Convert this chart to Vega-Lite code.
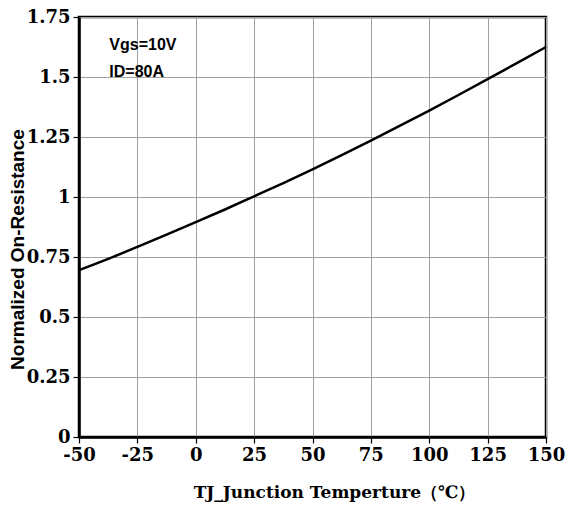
{
  "$schema": "https://vega.github.io/schema/vega-lite/v6.json",
  "width": 467,
  "height": 420,
  "autosize": "none",
  "padding": {"left": 79, "top": 17, "right": 20, "bottom": 69},
  "background": "white",
  "config": {
    "view": {"stroke": "black", "strokeWidth": 2.5},
    "axis": {
      "gridColor": "#a0a0a0",
      "gridWidth": 1,
      "gridOpacity": 1,
      "domainColor": "black",
      "domainWidth": 2.5,
      "tickColor": "black",
      "tickWidth": 1.2,
      "tickSize": 6,
      "labelColor": "black"
    }
  },
  "datasets": {
    "curve": [
      {"t": -50, "r": 0.695},
      {"t": -37.5, "r": 0.742},
      {"t": -25, "r": 0.792},
      {"t": -12.5, "r": 0.843},
      {"t": 0, "r": 0.895},
      {"t": 12.5, "r": 0.948},
      {"t": 25, "r": 1.003},
      {"t": 37.5, "r": 1.058},
      {"t": 50, "r": 1.115},
      {"t": 62.5, "r": 1.174},
      {"t": 75, "r": 1.235},
      {"t": 87.5, "r": 1.297},
      {"t": 100, "r": 1.36},
      {"t": 112.5, "r": 1.425},
      {"t": 125, "r": 1.491},
      {"t": 137.5, "r": 1.558},
      {"t": 150, "r": 1.625}
    ],
    "notes": [
      {"t": -37, "r": 1.632, "label": "Vgs=10V"},
      {"t": -37, "r": 1.52, "label": "ID=80A"}
    ]
  },
  "layer": [
    {
      "data": {"name": "curve"},
      "mark": {"type": "line", "color": "black", "strokeWidth": 2.5, "interpolate": "monotone"},
      "encoding": {
        "x": {
          "field": "t", "type": "quantitative",
          "scale": {"domain": [-50, 150], "nice": false},
          "axis": {
            "values": [-50, -25, 0, 25, 50, 75, 100, 125, 150],
            "labelExpr": "'' + datum.value",
            "labelFont": "DejaVu Serif",
            "labelFontWeight": "bold",
            "labelFontSize": 18,
            "labelPadding": 3,
            "labelFlush": false,
            "title": "TJ_Junction Temperture（℃）",
            "titleFont": "DejaVu Serif",
            "titleFontWeight": "bold",
            "titleFontSize": 17,
            "titleColor": "black",
            "titlePadding": 20,
            "titleX": 255
          }
        },
        "y": {
          "field": "r", "type": "quantitative",
          "scale": {"domain": [0, 1.75], "nice": false},
          "axis": {
            "values": [0, 0.25, 0.5, 0.75, 1, 1.25, 1.5, 1.75],
            "labelExpr": "'' + datum.value",
            "labelFont": "DejaVu Serif",
            "labelFontWeight": "bold",
            "labelFontSize": 18,
            "labelPadding": 3,
            "labelFlush": false,
            "title": "Normalized On-Resistance",
            "titleFont": "Liberation Sans",
            "titleFontWeight": "bold",
            "titleFontSize": 19,
            "titleColor": "black",
            "titleX": -62,
            "titleY": 232,
            "titleBaseline": "middle"
          }
        }
      }
    },
    {
      "data": {"name": "notes"},
      "mark": {"type": "text", "align": "left", "baseline": "middle", "font": "Liberation Sans", "fontWeight": "bold", "fontSize": 16, "color": "black"},
      "encoding": {
        "x": {"field": "t", "type": "quantitative"},
        "y": {"field": "r", "type": "quantitative"},
        "text": {"field": "label"}
      }
    }
  ]
}
